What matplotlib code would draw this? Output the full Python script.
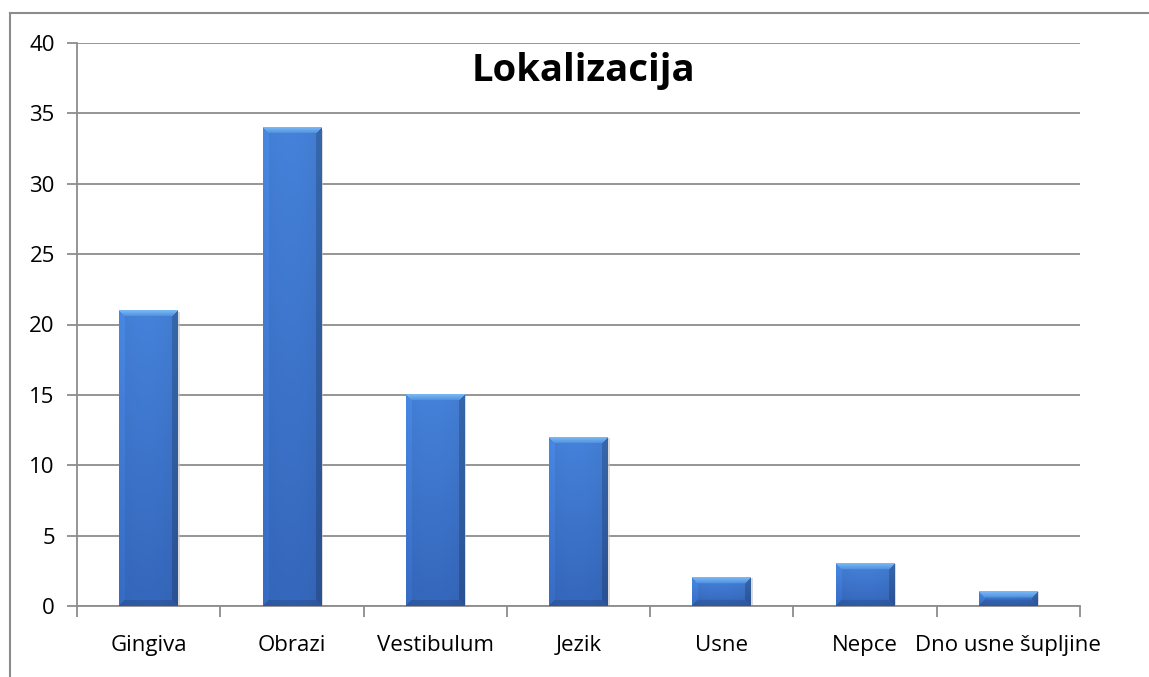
import numpy as np
import matplotlib
matplotlib.use("Agg")
import matplotlib.pyplot as plt
from matplotlib.lines import Line2D

# Data
# =============================================================================
categories = ['Gingiva', 'Obrazi', 'Vestibulum', 'Jezik', 'Usne', 'Nepce',
              'Dno usne šupljine']
values = [21, 34, 15, 12, 2, 3, 1]
y_ticks = [0, 5, 10, 15, 20, 25, 30, 35, 40]
title = 'Lokalizacija'

plt.rcParams['font.family'] = ['Open Sans', 'DejaVu Sans']

GRID = '#8c8c8c'


## builds an RGB bevel image for a bar of w x h pixels
def bevel_image(w, h, b=6):
    xx = np.arange(w)[None, :] * np.ones((h, 1))
    yy = np.arange(h)[:, None] * np.ones((1, w))
    # body: vertical gradient, slightly lighter towards the top
    t = (yy / max(h - 1, 1))[..., None]
    top_c = np.array([0.26, 0.49, 0.82])
    bot_c = np.array([0.20, 0.39, 0.71])
    img = top_c * (1 - t) + bot_c * t
    shade = 1.0 + 0.04 * np.cos((xx / max(w - 1, 1) - 0.45) * np.pi)
    img = img * shade[..., None]
    top = (yy < b) & (yy <= xx) & (yy <= (w - 1 - xx))
    bottom = (yy >= h - b) & ((h - 1 - yy) <= xx) & ((h - 1 - yy) <= (w - 1 - xx))
    left = (xx < b) & ~top & ~bottom
    right = (xx >= w - b) & ~top & ~bottom
    tt = (yy / max(b - 1, 1))[..., None]
    top_img = np.array([0.47, 0.72, 0.96]) * (1 - tt) + np.array([0.33, 0.58, 0.88]) * tt
    img[top] = top_img[top]
    img[left] = (img * 1.07)[left]
    img[right] = (img * 0.82)[right]
    img[bottom] = (img * 0.88)[bottom]
    return np.clip(img, 0, 1)


fig = plt.figure(figsize=(11.49, 6.77), dpi=100)
ax = fig.add_axes([77 / 1149, 1 - 606 / 677, (1080 - 77) / 1149, (606 - 43) / 677])

x = np.arange(len(categories))
bars = ax.bar(x, values, width=0.41, color='#3a70bf', zorder=2)

ax.set_xlim(-0.5, len(categories) - 0.5)
ax.set_ylim(0, 40)
ax.set_yticks(y_ticks)
ax.set_yticklabels([str(v) for v in y_ticks], fontsize=16)
ax.set_xticks(x)
ax.set_xticklabels(categories, fontsize=16)
ax.set_xticks(np.arange(-0.5, len(categories), 1), minor=True)
ax.tick_params(axis='x', which='major', length=0, pad=21)
ax.tick_params(axis='x', which='minor', length=8, width=1.3, color=GRID)
ax.tick_params(axis='y', length=7, width=1.3, color=GRID, pad=9)
ax.grid(axis='y', color=GRID, linewidth=1.3, zorder=0)
ax.set_axisbelow(True)
for s in ['top', 'right']:
    ax.spines[s].set_visible(False)
for s in ['left', 'bottom']:
    ax.spines[s].set_color(GRID)
    ax.spines[s].set_linewidth(1.3)

# bevelled bars
fig.canvas.draw()
for bar in bars:
    bx, by, bw, bh = bar.get_x(), bar.get_y(), bar.get_width(), bar.get_height()
    p0 = ax.transData.transform((bx, by))
    p1 = ax.transData.transform((bx + bw, by + bh))
    wpx = max(int(round(p1[0] - p0[0])), 2)
    hpx = max(int(round(p1[1] - p0[1])), 2)
    # soft shadow
    ax.add_patch(plt.Rectangle((bx + 0.012, by), bw, bh * 0.995, color='#c4c4c4',
                               alpha=0.6, zorder=1.5, lw=0))
    ax.imshow(bevel_image(wpx, hpx, b=min(6, hpx // 2)), extent=(bx, bx + bw, by, by + bh),
              aspect='auto', zorder=3, interpolation='bilinear')

ax.set_xlim(-0.5, len(categories) - 0.5)
ax.set_ylim(0, 40)

ax.text(0.505, 0.95, title, transform=ax.transAxes, ha='center', va='center',
        fontsize=27.5, fontweight='bold')

# outer chart border (runs off the right and bottom edges)
fig.add_artist(Line2D([10 / 1149, 1.0], [1 - 13 / 677, 1 - 13 / 677],
                      color=GRID, linewidth=1.5, transform=fig.transFigure))
fig.add_artist(Line2D([10 / 1149, 10 / 1149], [0, 1 - 13 / 677],
                      color=GRID, linewidth=1.5, transform=fig.transFigure))

fig.savefig('out.png', dpi=100)
